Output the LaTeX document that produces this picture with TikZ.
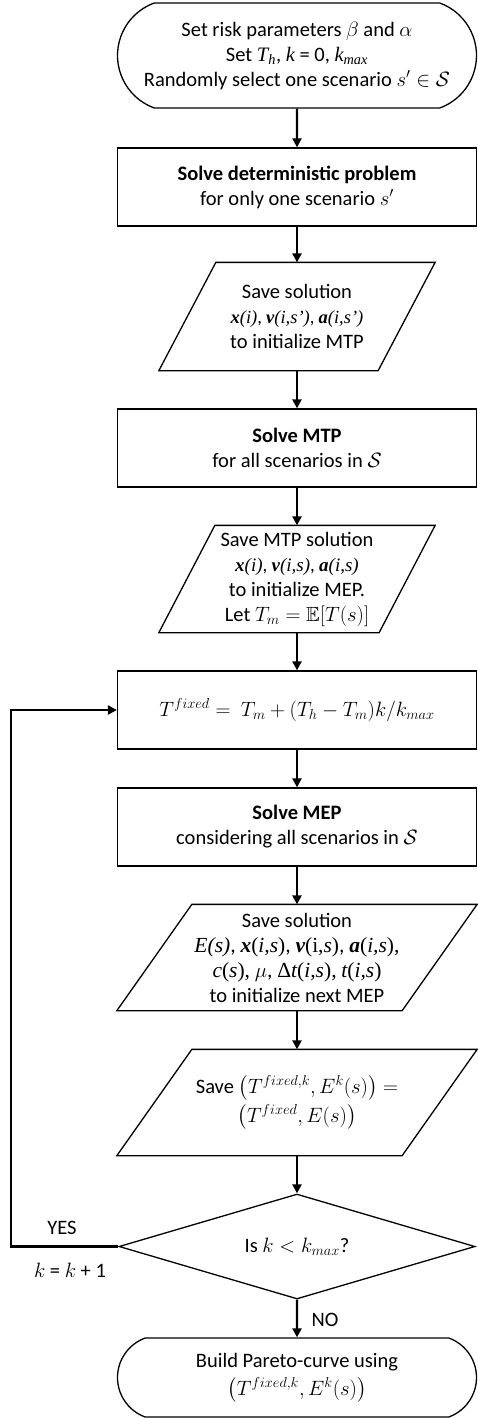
\documentclass[tikz,border=0pt]{standalone}
\usepackage{amsmath,amssymb}
\usepackage{fontspec}
\setmainfont{Carlito}
\newfontfamily\tnr{Liberation Serif}
\usetikzlibrary{shapes.geometric,shapes.misc,arrows.meta,calc}
\newcommand{\tmi}[1]{{\tnr\itshape #1}}
\newcommand{\tmb}[1]{{\tnr\bfseries\itshape #1}}
\begin{document}
\begin{tikzpicture}[x=1pt,y=-1pt,
  font=\fontsize{20.5}{25}\selectfont,
  line width=1.3pt,
  term/.style={rounded rectangle, rounded rectangle arc length=140, draw, minimum width=359pt, align=center, inner sep=0pt},
  proc/.style={rectangle, draw, minimum width=359pt, minimum height=78pt, align=center, inner sep=0pt},
  io/.style={rectangle, align=center, inner sep=0pt},
  dec/.style={diamond, draw, minimum width=356pt, minimum height=105pt, aspect=3.4, inner sep=0pt},
  lbl/.style={inner sep=0pt},
  arr/.style={-{Triangle[length=9pt,width=9pt]}, line width=2.2pt}]
\useasboundingbox (0,0) rectangle (477,1418);

\node[term, minimum height=105pt] (t1) at (297,55.5)
  {Set risk parameters $\beta$ and $\alpha$\\
   Set \tmi{T\textsubscript{h}}, \tmi{k} = 0, \tmi{k\textsubscript{max}}\\
   Randomly select one scenario $s'\in\mathcal{S}$};

\node[proc] (b1) at (297,187)
  {\textbf{Solve deterministic problem}\\ for only one scenario $s'$};

\node[io, minimum width=275pt, minimum height=107pt] (p1) at (297,316.5)
  {Save solution\\
   {\fontsize{18.5}{25}\selectfont\tmb{x}\tmi{(i)}, \tmb{v}\tmi{(i,s’)}, \tmb{a}\tmi{(i,s’)}}\\
   to initialize MTP};
\draw ($(p1.north west)+(57,0)$) -- (p1.north east) -- ($(p1.south east)-(57,0)$) -- (p1.south west) -- cycle;

\node[proc] (b2) at (297,448)
  {\textbf{Solve MTP}\\ for all scenarios in $\mathcal{S}$};

\node[io, minimum width=275pt, minimum height=106pt] (p2) at (297,579)
  {Save MTP solution\\
   {\fontsize{19}{24}\selectfont\tmb{x}\tmi{(i)}, \tmb{v}\tmi{(i,s)}, \tmb{a}\tmi{(i,s)}}\\
   to initialize MEP.\\
   Let $T_m = \mathbb{E}[T(s)]$};
\draw ($(p2.north west)+(56,0)$) -- (p2.north east) -- ($(p2.south east)-(56,0)$) -- (p2.south west) -- cycle;

\node[proc] (b3) at (297,710)
  {$T^{fixed} =\ T_m + (T_h - T_m)k/k_{max}$};

\node[proc] (b4) at (297,827)
  {\textbf{Solve MEP}\\ considering all scenarios in $\mathcal{S}$};

\node[io, minimum width=359pt, minimum height=105pt] (p3) at (297,957.5)
  {Save solution\\
   {\fontsize{21.5}{24.5}\selectfont\tmi{E(s)}, \tmb{x}{\tnr(\textit{i,s})}, \tmb{v}{\tnr(i,\textit{s})}, \tmb{a}{\tnr(\textit{i,s}),}}\\
   {\fontsize{21.5}{24.5}\selectfont\tmi{c}{\tnr(\textit{s}),} $\mu$, {\tnr Δ}\tmi{t}{\tnr(\textit{i,s}),} \tmi{t}{\tnr(\textit{i,s})}}\\
   to initialize next MEP};
\draw ($(p3.north west)+(75,0)$) -- (p3.north east) -- ($(p3.south east)-(75,0)$) -- (p3.south west) -- cycle;

\node[io, minimum width=359pt, minimum height=105pt] (p4) at (297,1102.5)
  {Save $\big(T^{fixed,k}, E^k(s)\big) =$\\[4pt]
   $\big(T^{fixed}, E(s)\big)$};
\draw ($(p4.north west)+(75,0)$) -- (p4.north east) -- ($(p4.south east)-(75,0)$) -- (p4.south west) -- cycle;

\node[dec] (d) at (297,1246.5) {Is $k < k_{max}$?};

\node[term, minimum height=79pt] (t2) at (297,1377.5)
  {Build Pareto-curve using\\[3pt] $\big(T^{fixed,k}, E^k(s)\big)$};

\draw[arr] (t1) -- (b1);
\draw[arr] (b1) -- (p1);
\draw[arr] (p1) -- (b2);
\draw[arr] (b2) -- (p2);
\draw[arr] (p2) -- (b3);
\draw[arr] (b3) -- (b4);
\draw[arr] (b4) -- (p3);
\draw[arr] (p3) -- (p4);
\draw[arr] (p4) -- (d);
\draw[arr] (d) -- (t2);
\draw[arr] (d.west) -- ++(-107,0) |- (b3.west);

\node[lbl] (yes) at (62,1228) {YES};
\node[lbl] (kk) at (70,1270) {$k$ = $k$ + 1};
\node[lbl] (no) at (325,1320) {NO};
\end{tikzpicture}
\end{document}
